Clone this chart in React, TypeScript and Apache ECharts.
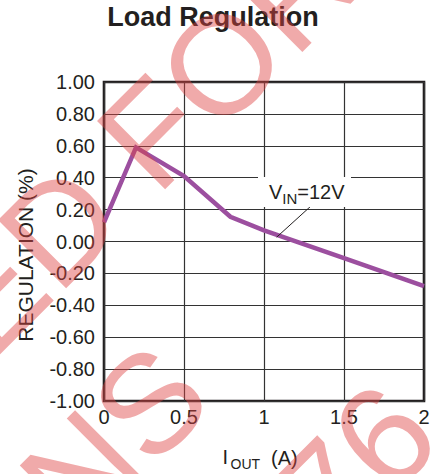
import React, { useEffect, useRef } from "react";
import * as echarts from "echarts";

const chartTitle = "Load Regulation";
const currentA = [0, 0.2, 0.5, 0.79, 1.0, 1.5, 2.0];
const regulationPct = [0.12, 0.59, 0.41, 0.155, 0.07, -0.105, -0.28];
const yTicks = { min: -1, max: 1, interval: 0.2 };
const xTicks = { min: 0, max: 2, interval: 0.5 };
const yAxisTitle = "REGULATION (%)";
const xAxisTitleMain = "I";
const xAxisTitleSub = "OUT";
const xAxisTitleTail = " (A)";
const seriesLabelMain = "V";
const seriesLabelSub = "IN";
const seriesLabelTail = "=12V";
const leaderFrom = [1.2875, 0.217];
const leaderTo = [1.079, 0.027];
const watermarkLines = ["NOT RECOMMENDED FOR", "NEW DESIGNS", "REFER TO MP2176"];

const FONT = "'Liberation Sans', Arial, Helvetica, sans-serif";
const INK = "#231f20";

export default function App() {
  const ref = useRef<HTMLDivElement>(null);
  useEffect(() => {
    document.body.style.margin = "0";
    if (!ref.current) return;
    const chart = echarts.init(ref.current, null, { renderer: "svg" });
    const data = currentA.map((x, i) => [x, regulationPct[i]]);

    // watermark placement (rotated 45deg, centred lines)
    const s2 = Math.SQRT2;
    const aC = -630;
    const pLines = [202, 391, 580];
    const watermark = watermarkLines.map((t, i) => ({
      type: "text",
      x: (pLines[i] + aC) / s2,
      y: (pLines[i] - aC) / s2,
      rotation: Math.PI / 4,
      z: 100,
      silent: true,
      style: {
        text: t,
        fontSize: 140,
        fontFamily: FONT,
        fill: "rgba(222,66,66,0.45)",
        align: "center",
        verticalAlign: "middle",
      },
    }));

    const txt = (text: string, x: number, y: number, size: number, extra: any = {}) => ({
      type: "text",
      x,
      y,
      z: 20,
      style: {
        text,
        fontSize: size,
        fontFamily: FONT,
        fill: INK,
        align: "left",
        verticalAlign: "middle",
        ...extra,
      },
    });

    chart.setOption({
      animation: false,
      backgroundColor: "#ffffff",
      grid: {
        left: 104,
        right: 17,
        top: 82,
        bottom: 73,
        show: true,
        borderColor: INK,
        borderWidth: 2.6,
        backgroundColor: "transparent",
      },
      xAxis: {
        type: "value",
        min: xTicks.min,
        max: xTicks.max,
        interval: xTicks.interval,
        axisLine: { show: false, onZero: false },
        axisTick: { show: false },
        axisLabel: {
          color: INK,
          fontSize: 20,
          fontFamily: FONT,
          margin: 6,
        },
        splitLine: { show: true, lineStyle: { color: "#333", width: 1.2 } },
      },
      yAxis: {
        type: "value",
        min: yTicks.min,
        max: yTicks.max,
        interval: yTicks.interval,
        axisLine: { show: false, onZero: false },
        axisTick: { show: false },
        axisLabel: {
          color: INK,
          fontSize: 20,
          fontFamily: FONT,
          margin: 9,
          formatter: (v: number) => (Math.abs(v) < 1e-9 ? 0 : v).toFixed(2),
        },
        splitLine: { show: true, lineStyle: { color: "#333", width: 1.2 } },
      },
      series: [
        {
          type: "line",
          data,
          symbol: "none",
          z: 3,
          lineStyle: { color: "#9c4f9f", width: 4.5, join: "miter" },
          markLine: {
            silent: true,
            symbol: "none",
            label: { show: false },
            lineStyle: { color: INK, width: 1, type: "solid" },
            data: [[{ coord: leaderFrom }, { coord: leaderTo }]],
          },
        },
      ],
      graphic: [
        {
          type: "rect",
          z: 10,
          shape: { x: 258, y: 177, width: 93, height: 30 },
          style: { fill: "#ffffff" },
        },
        txt(seriesLabelMain, 269, 192, 20),
        txt(seriesLabelSub, 282.3, 198, 15),
        txt(seriesLabelTail, 297.3, 192, 20),
        txt(xAxisTitleMain, 222.5, 457, 20),
        txt(xAxisTitleSub, 230.5, 464, 14),
        txt(xAxisTitleTail, 265.5, 457.5, 20),
        {
          type: "text",
          x: 25,
          y: 255,
          rotation: Math.PI / 2,
          z: 20,
          style: {
            text: yAxisTitle,
            fontSize: 21,
            fontFamily: FONT,
            fill: INK,
            align: "center",
            verticalAlign: "middle",
          },
        },
        {
          type: "text",
          x: 213,
          y: 16.7,
          z: 20,
          style: {
            text: chartTitle,
            fontSize: 27,
            fontWeight: "bold",
            fontFamily: FONT,
            fill: INK,
            align: "center",
            verticalAlign: "middle",
          },
        },
        ...watermark,
      ],
    });
    return () => chart.dispose();
  }, []);
  return <div ref={ref} style={{ width: 441, height: 474 }} />;
}
